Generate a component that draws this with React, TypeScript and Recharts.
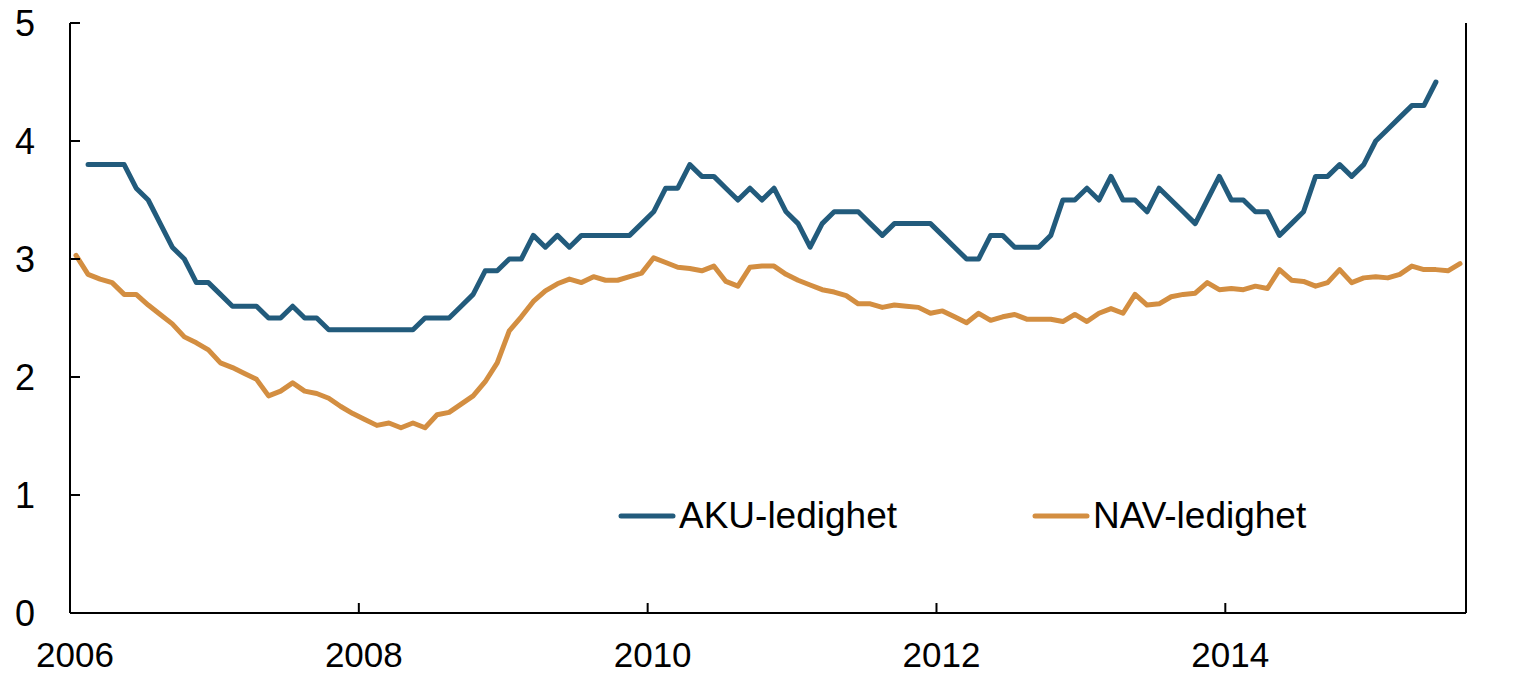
import React from "react";
import { Legend, Line, LineChart, XAxis, YAxis } from "recharts";

const FONT = '"Liberation Sans", Arial, Helvetica, sans-serif';
const AKU_COLOR = "#225b7c";
const NAV_COLOR = "#d38e41";

const START_YEAR = 2006;
const MONTHS = 116; // Jan 2006 - Aug 2015
const YEAR_TICKS = [2006, 2008, 2010, 2012, 2014];
const VALUE_TICKS = [0, 1, 2, 3, 4, 5];

// AKU-ledighet, monthly from Feb 2006 to Jun 2015
const AKU_START = 1;
const AKU = [
  3.8, 3.8, 3.8, 3.8, 3.6, 3.5, 3.3, 3.1, 3.0, 2.8, 2.8,
  2.7, 2.6, 2.6, 2.6, 2.5, 2.5, 2.6, 2.5, 2.5, 2.4, 2.4, 2.4,
  2.4, 2.4, 2.4, 2.4, 2.4, 2.5, 2.5, 2.5, 2.6, 2.7, 2.9, 2.9,
  3.0, 3.0, 3.2, 3.1, 3.2, 3.1, 3.2, 3.2, 3.2, 3.2, 3.2, 3.3,
  3.4, 3.6, 3.6, 3.8, 3.7, 3.7, 3.6, 3.5, 3.6, 3.5, 3.6, 3.4,
  3.3, 3.1, 3.3, 3.4, 3.4, 3.4, 3.3, 3.2, 3.3, 3.3, 3.3, 3.3,
  3.2, 3.1, 3.0, 3.0, 3.2, 3.2, 3.1, 3.1, 3.1, 3.2, 3.5, 3.5,
  3.6, 3.5, 3.7, 3.5, 3.5, 3.4, 3.6, 3.5, 3.4, 3.3, 3.5, 3.7,
  3.5, 3.5, 3.4, 3.4, 3.2, 3.3, 3.4, 3.7, 3.7, 3.8, 3.7, 3.8,
  4.0, 4.1, 4.2, 4.3, 4.3, 4.5,
];

// NAV-ledighet, monthly from Jan 2006 to Aug 2015
const NAV_START = 0;
const NAV = [
  3.03, 2.87, 2.83, 2.8, 2.7, 2.7, 2.61, 2.53, 2.45, 2.34, 2.29, 2.23,
  2.12, 2.08, 2.03, 1.98, 1.84, 1.88, 1.95, 1.88, 1.86, 1.82, 1.75, 1.69,
  1.64, 1.59, 1.61, 1.57, 1.61, 1.57, 1.68, 1.7, 1.77, 1.84, 1.96, 2.12,
  2.39, 2.51, 2.64, 2.73, 2.79, 2.83, 2.8, 2.85, 2.82, 2.82, 2.85, 2.88,
  3.01, 2.97, 2.93, 2.92, 2.9, 2.94, 2.81, 2.77, 2.93, 2.94, 2.94, 2.87,
  2.82, 2.78, 2.74, 2.72, 2.69, 2.62, 2.62, 2.59, 2.61, 2.6, 2.59, 2.54,
  2.56, 2.51, 2.46, 2.54, 2.48, 2.51, 2.53, 2.49, 2.49, 2.49, 2.47, 2.53,
  2.47, 2.54, 2.58, 2.54, 2.7, 2.61, 2.62, 2.68, 2.7, 2.71, 2.8, 2.74,
  2.75, 2.74, 2.77, 2.75, 2.91, 2.82, 2.81, 2.77, 2.8, 2.91, 2.8, 2.84,
  2.85, 2.84, 2.87, 2.94, 2.91, 2.91, 2.9, 2.96,
];

const data = Array.from({ length: MONTHS }, (_, m) => ({
  t: m + 0.5,
  aku: AKU[m - AKU_START] ?? null,
  nav: NAV[m - NAV_START] ?? null,
}));

const tickStyle = { fill: "#000", fontSize: 36, fontFamily: FONT };

function YearTick({ x, y, payload }: any) {
  return (
    <text x={x + 5} y={y} textAnchor="middle" fill="#000" fontSize={35} fontFamily={FONT}>
      {START_YEAR + Math.round(payload.value / 12)}
    </text>
  );
}

// zero-height box so the legend does not shrink the plot area
function LegendBox({ payload }: any) {
  return (
    <div style={{ position: "relative", height: 0, fontFamily: FONT, fontSize: 37, color: "#000" }}>
      {(payload || []).map((item: any, i: number) => (
        <div
          key={item.value}
          style={{
            position: "absolute",
            left: 618 + i * 414,
            top: 0,
            height: 50,
            display: "flex",
            alignItems: "center",
            whiteSpace: "nowrap",
          }}
        >
          <svg width={58} height={10} style={{ marginRight: 3 }}>
            <line x1={3} y1={5} x2={55} y2={5} stroke={item.color} strokeWidth={5} strokeLinecap="round" />
          </svg>
          <span>{item.value}</span>
        </div>
      ))}
    </div>
  );
}

export default function App() {
  return (
    <div style={{ position: "absolute", left: 0, top: 0, width: 1525, height: 675, background: "#fff" }}>
      <LineChart
        width={1525}
        height={675}
        data={data}
        margin={{ top: 23, right: 0, bottom: 0, left: 0 }}
      >
        <XAxis
          dataKey="t"
          type="number"
          domain={[0, MONTHS]}
          ticks={YEAR_TICKS.map((y) => (y - START_YEAR) * 12)}
          allowDataOverflow
          height={62}
          stroke="#000"
          strokeWidth={2}
          tickSize={-10}
          tickMargin={64}
          tick={<YearTick />}
          tickLine={{ stroke: "#000", strokeWidth: 2 }}
        />
        <YAxis
          yAxisId="left"
          domain={[0, 5]}
          ticks={VALUE_TICKS}
          width={70}
          stroke="#000"
          strokeWidth={2}
          tickSize={-10}
          tickMargin={45}
          tick={tickStyle}
          tickLine={{ stroke: "#000", strokeWidth: 2 }}
        />
        <YAxis
          yAxisId="right"
          orientation="right"
          domain={[0, 5]}
          ticks={VALUE_TICKS}
          width={59}
          stroke="#000"
          strokeWidth={2}
          tickSize={-10}
          tickMargin={44}
          tick={tickStyle}
          tickLine={{ stroke: "#000", strokeWidth: 2 }}
        />
        <Legend
          content={<LegendBox />}
          wrapperStyle={{ position: "absolute", left: 0, top: 491, width: 1525, height: 0 }}
        />
        <Line
          yAxisId="left"
          type="linear"
          dataKey="aku"
          name="AKU-ledighet"
          stroke={AKU_COLOR}
          strokeWidth={5}
          strokeLinejoin="round"
          strokeLinecap="round"
          dot={false}
          activeDot={false}
          isAnimationActive={false}
        />
        <Line
          yAxisId="left"
          type="linear"
          dataKey="nav"
          name="NAV-ledighet"
          stroke={NAV_COLOR}
          strokeWidth={5}
          strokeLinejoin="round"
          strokeLinecap="round"
          dot={false}
          activeDot={false}
          isAnimationActive={false}
        />
      </LineChart>
    </div>
  );
}
